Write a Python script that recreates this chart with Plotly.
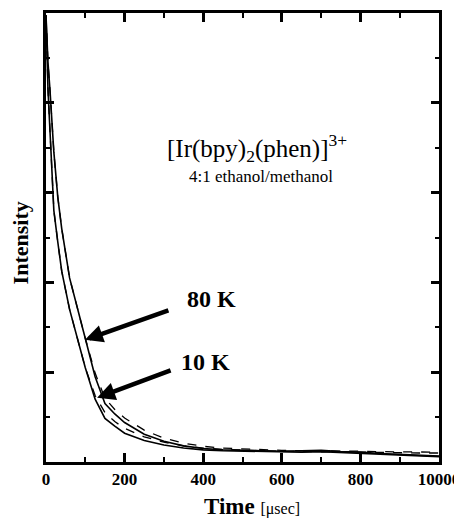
import plotly.graph_objects as go

# data
time_us = [0, 5, 10, 20, 30, 40, 60, 80, 100, 125, 150, 175, 200, 250, 300, 350, 400, 450, 500, 550, 600, 650, 700, 750, 800, 850, 900, 950, 1000]
i_10K = [9.95, 8.3, 7.4, 5.6, 4.9, 4.25, 3.4, 2.75, 2.1, 1.4, 0.97, 0.8, 0.64, 0.48, 0.38, 0.31, 0.27, 0.25, 0.24, 0.23, 0.22, 0.22, 0.23, 0.21, 0.2, 0.17, 0.16, 0.14, 0.12]
i_80K = [9.95, 8.9, 8.3, 6.9, 5.9, 5.2, 4.1, 3.4, 2.75, 1.9, 1.3, 1.07, 0.88, 0.62, 0.46, 0.36, 0.3, 0.27, 0.26, 0.25, 0.24, 0.25, 0.26, 0.23, 0.22, 0.19, 0.17, 0.15, 0.13]
fit_10K = [9.95, 8.3, 7.4, 5.6, 4.9, 4.25, 3.4, 2.75, 2.1, 1.48, 1.1, 0.9, 0.75, 0.56, 0.44, 0.36, 0.31, 0.28, 0.26, 0.25, 0.24, 0.23, 0.23, 0.22, 0.22, 0.21, 0.21, 0.2, 0.2]
fit_80K = [9.95, 8.9, 8.3, 6.9, 5.9, 5.2, 4.1, 3.4, 2.75, 1.98, 1.42, 1.17, 0.98, 0.71, 0.53, 0.42, 0.35, 0.31, 0.29, 0.27, 0.26, 0.25, 0.25, 0.24, 0.24, 0.23, 0.23, 0.22, 0.22]

x_tickvals = [0, 200, 400, 600, 800, 1000]
x_ticktext = ["<b>0</b>", "<b>200</b>", "<b>400</b>", "<b>600</b>", "<b>800</b>", "<b>10000</b>"]

serif = "Liberation Serif, Times New Roman, serif"

fig = go.Figure()
fig.add_trace(go.Scatter(x=time_us, y=i_10K, mode="lines", line=dict(color="black", width=1.6), name="10 K"))
fig.add_trace(go.Scatter(x=time_us, y=i_80K, mode="lines", line=dict(color="black", width=1.6), name="80 K"))
fig.add_trace(go.Scatter(x=time_us, y=fit_10K, mode="lines", line=dict(color="black", width=1.3, dash="dash"), name="fit 10 K"))
fig.add_trace(go.Scatter(x=time_us, y=fit_80K, mode="lines", line=dict(color="black", width=1.3, dash="dash"), name="fit 80 K"))

axis_common = dict(showline=True, linewidth=3, linecolor="black", mirror="allticks", automargin=False,
                   ticks="inside", tickwidth=2.5, tickcolor="black", showgrid=False, zeroline=False)

fig.update_xaxes(range=[0, 1000], tickvals=x_tickvals, ticktext=x_ticktext, ticklen=9,
                 minor=dict(tickvals=[100, 300, 500, 700, 900], ticklen=5, ticks="inside", tickwidth=2, tickcolor="black"),
                 tickfont=dict(family=serif, size=17, color="black"),
                 **axis_common)
fig.update_yaxes(range=[0, 10], tickvals=[2, 4, 6, 8], ticklen=8, showticklabels=False,
                 minor=dict(tickvals=[1, 3, 5, 7, 9], ticklen=4, ticks="inside", tickwidth=2, tickcolor="black"),
                 **axis_common)

# axis titles
fig.add_annotation(x=-0.066, y=0.487, xref="paper", yref="paper", showarrow=False, textangle=-90,
                   xanchor="center", yanchor="middle",
                   text="<b>Intensity</b>", font=dict(family=serif, size=22, color="black"))
fig.add_annotation(x=0.523, y=-0.098, xref="paper", yref="paper", showarrow=False,
                   xanchor="center", yanchor="middle",
                   text="<b>Time</b> <span style='font-size:16px'>[μsec]</span>", font=dict(family=serif, size=23, color="black"))

# inset text
fig.add_annotation(x=0.537, y=0.70, xref="paper", yref="paper", showarrow=False, xanchor="center", yanchor="middle",
                   text="[Ir(bpy)<sub>2</sub>(phen)]<sup>3+</sup>", font=dict(family=serif, size=25, color="black"))
fig.add_annotation(x=0.547, y=0.635, xref="paper", yref="paper", showarrow=False, xanchor="center", yanchor="middle",
                   text="4:1 ethanol/methanol", font=dict(family=serif, size=17, color="black"))

# arrows with labels
fig.add_annotation(x=99, y=2.72, ax=85, ay=-30, xref="x", yref="y",
                   showarrow=True, arrowhead=2, arrowsize=0.8, arrowwidth=4.5, arrowcolor="black", text="")
fig.add_annotation(x=130, y=1.43, ax=75, ay=-28, xref="x", yref="y",
                   showarrow=True, arrowhead=2, arrowsize=0.8, arrowwidth=4.5, arrowcolor="black", text="")
fig.add_annotation(x=422, y=3.63, xref="x", yref="y", showarrow=False,
                   text="<b>80 K</b>", font=dict(family=serif, size=24, color="black"))
fig.add_annotation(x=405, y=2.23, xref="x", yref="y", showarrow=False,
                   text="<b>10 K</b>", font=dict(family=serif, size=24, color="black"))

# figure is drawn 8 px in from the page edge, so it is made 8 px smaller
fig.update_layout(width=454, height=512, margin=dict(l=38, r=23, t=5, b=58),
                  plot_bgcolor="white", paper_bgcolor="white", showlegend=False)

fig.write_html("out.html")
